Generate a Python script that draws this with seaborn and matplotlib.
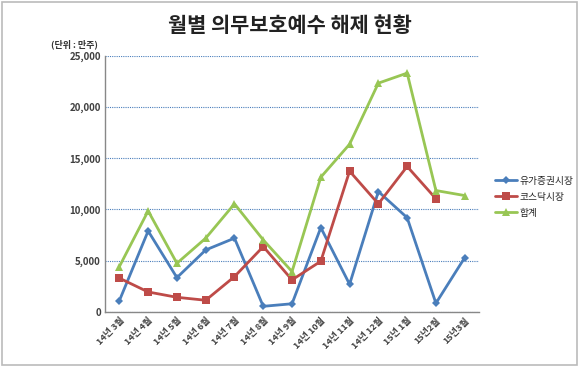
import matplotlib
matplotlib.use("Agg")
import matplotlib.pyplot as plt
import seaborn as sns
import pandas as pd
import numpy as np
from matplotlib.patches import Rectangle

months = ["14년 3월", "14년 4월", "14년 5월", "14년 6월", "14년 7월", "14년 8월", "14년 9월",
          "14년 10월", "14년 11월", "14년 12월", "15년 1월", "15년2월", "15년3월"]
kospi = [1100, 7900, 3350, 6050, 7200, 550, 800, 8230, 2700, 11750, 9200, 850, 5300]
kosdaq = [3300, 1950, 1430, 1140, 3450, 6380, 3130, 4950, 13740, 10550, 14200, 11050, np.nan]
total = [4430, 9860, 4750, 7200, 10550, 7030, 3940, 13150, 16370, 22330, 23310, 11850, 11360]
series_names = ["유가증권시장", "코스닥시장", "합계"]

sns.set_theme(style="white")
plt.rcParams['font.family'] = ['Noto Sans CJK KR', 'DejaVu Sans']

df = pd.DataFrame({"month": months * 3,
                   "value": kospi + kosdaq + total,
                   "series": [series_names[0]] * 13 + [series_names[1]] * 13 + [series_names[2]] * 13})
df["x"] = list(range(13)) * 3

fig = plt.figure(figsize=(5.8, 3.67), dpi=100)
ax = fig.add_axes([0.181, 0.150, 0.645, 0.698])

palette = {series_names[0]: "#4A7EBB", series_names[1]: "#BE4B48", series_names[2]: "#98C654"}
markers = {series_names[0]: "D", series_names[1]: "s", series_names[2]: "^"}
sizes = {series_names[0]: 4, series_names[1]: 6, series_names[2]: 6}
for name in series_names:
    sub = df[df.series == name]
    sns.lineplot(data=sub, x="x", y="value", ax=ax, color=palette[name], marker=markers[name],
                 markersize=sizes[name], markeredgewidth=0, linewidth=2, label=name)

ax.set_xlim(-0.5, 12.5)
ax.set_ylim(0, 25000)
ax.set_yticks([0, 5000, 10000, 15000, 20000, 25000])
ax.set_yticklabels(["0", "5,000", "10,000", "15,000", "20,000", "25,000"], fontsize=7,
                   fontweight="bold", color="#404040")
ax.set_xticks(range(13))
ax.set_xticklabels(months, rotation=45, ha="right", rotation_mode="anchor", fontsize=6.5,
                   fontweight="bold", color="#404040")
ax.set_xlabel("")
ax.set_ylabel("")
ax.yaxis.grid(True, linestyle=(0, (1, 1)), color="#4A7EBB", linewidth=0.8)
ax.set_axisbelow(True)
for s in ["top", "right"]:
    ax.spines[s].set_visible(False)
for s in ["left", "bottom"]:
    ax.spines[s].set_color("#888888")
    ax.spines[s].set_linewidth(1)
ax.tick_params(axis="both", length=0, pad=3)

leg = ax.legend(loc="center left", bbox_to_anchor=(1.02, 0.45), frameon=False, fontsize=7,
                handlelength=2.2, handletextpad=0.3, labelspacing=0.6)

fig.text(0.5, 0.93, "월별 의무보호예수 해제 현황", ha="center", va="center", fontsize=15,
         fontweight="bold", color="#222222")
fig.text(0.128, 0.878, "(단위 : 만주)", ha="center", va="center", fontsize=6.5, fontweight="bold",
         color="#333333")

fig.patches.append(Rectangle((0.003, 0.005), 0.992, 0.99, transform=fig.transFigure,
                             fill=False, edgecolor="#BBBBBB", linewidth=1.2))

fig.savefig("out.png", dpi=100)
